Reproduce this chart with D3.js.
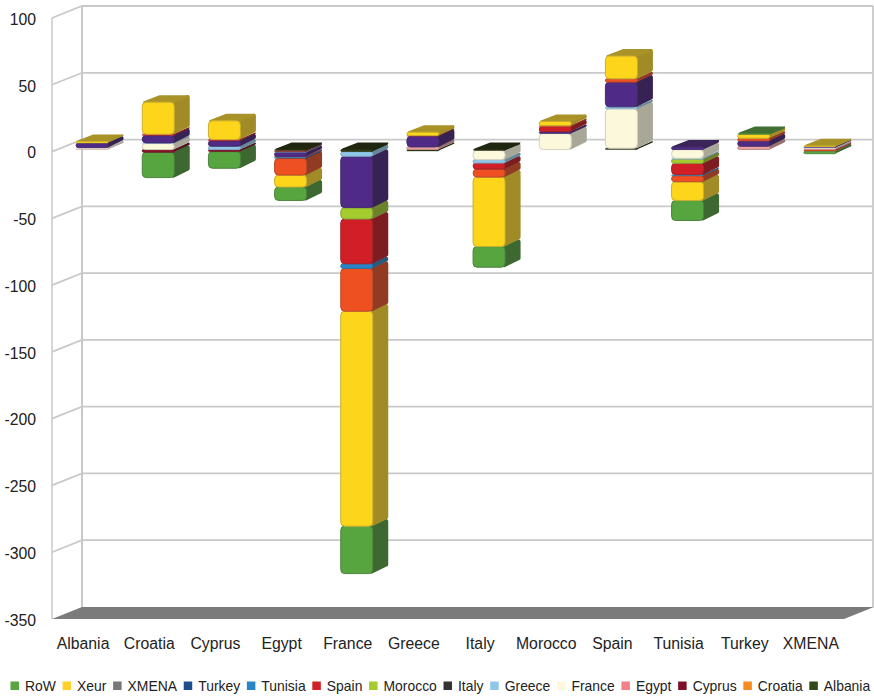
<!DOCTYPE html>
<html>
<head>
<meta charset="utf-8">
<script src="https://cdn.jsdelivr.net/npm/d3@7"></script>
<style>
html,body{margin:0;padding:0;background:#fff}
svg{display:block}
text{font-family:"Liberation Sans",Arial,sans-serif;fill:#222}
</style>
</head>
<body>
<script>
// Regional balances, one stacked 3D column per country.
const categories = ["Albania","Croatia","Cyprus","Egypt","France","Greece","Italy","Morocco","Spain","Tunisia","Turkey","XMENA"];
const seriesNames = ["RoW","Xeur","XMENA","Turkey","Tunisia","Spain","Morocco","Italy","Greece","France","Egypt","Cyprus","Croatia","Albania"];
const yTicks = [100,50,0,-50,-100,-150,-200,-250,-300,-350];

const RoW     = [0,-19,-12.5,-10,-35.5,0,-15.5,0,0,-15,0.5,-2];
const Xeur    = [1.2,24,14,-9,-161,2.5,-52,3,17,-14,3,0.6];
const XMENA   = [0,0,0,-12.5,-32,0,-6,1,2.5,-4.5,2,-0.7];
const Turkey  = [0,0,0,-0.5,0,0,0,0,0,0,0,0];
const Tunisia = [0,0,0,-0.5,-3.5,0,0,0,0,-0.8,0,0];
const Spain   = [0,1,1,-0.5,-33.5,0.5,-4.5,3.5,0,-8.5,0,-0.4];
const Morocco = [0,0,0,0,-8.5,0,0,0,0,-3,0,0];
const Italy   = [3.5,5.5,4,-3,-38.5,8,0,1.5,18.5,2,4,0.8];
const Greece  = [0,0.5,2.5,-0.5,-3.5,0,-2.5,0,1.5,-0.8,0,0.3];
const France  = [1,4.5,0,0,0,0,-7,12,29.5,-6.5,0,0.5];
const Egypt   = [0.4,0,0,0,0,2,0,0,0,0,2.5,0.7];
const Cyprus  = [0,-2,-1.5,-0.5,0,0,0,0,0,0,0,0];
const Croatia = [0,0,0,-0.5,0,0,0,0,0,0,0,0];
const Albania = [0,0,0,-0.6,-1.5,-1,-0.6,0,1,0,0,0];

const seriesValues = [RoW,Xeur,XMENA,Turkey,Tunisia,Spain,Morocco,Italy,Greece,France,Egypt,Cyprus,Croatia,Albania];
const barColors = ["#56a53f","#fdd61c","#ee5022","#1f4e8f","#2a85c8","#d01f26","#a4cc2e","#4f2a86","#8fc7ea","#fbf8dc","#e9a0a0","#8a1428","#f08a24","#2e3a14"];
const legendColors = ["#56a53f","#fdd02a","#777777","#1f4e8f","#2a85c8","#d01f26","#a4cc2e","#333333","#8fc7ea","#fbf8dc","#f2808a","#7d1028","#f58a1f","#34491a"];

const width = 874, height = 697;
const svg = d3.select("body").append("svg").attr("width",width).attr("height",height);

// Front plane of the value axis and the offset to the back wall.
const y = d3.scaleLinear().domain([-350,100]).range([619,18]);
const x = d3.scaleBand().domain(categories).range([50,844]);
const wall = {left:52, dx:30, dy:-12, right:873};
const barW = 32, barFront = {dx:9, dy:-2}, barDepth = {dx:15.5, dy:-7};
const gridColor = "#c9c9c9";

// Walls and grid
const walls = svg.append("g").attr("fill","none").attr("stroke",gridColor);
const x0 = wall.left;
walls.selectAll(".grid").data(yTicks.slice(0,-1)).join("polyline")
  .attr("stroke-width",1.8)
  .attr("points",d=>{
    const p=y(d);
    return `${x0},${p} ${x0+wall.dx},${p+wall.dy} ${wall.right},${p+wall.dy}`;
  });
walls.append("line").attr("x1",x0).attr("x2",x0).attr("y1",y(100)).attr("y2",y(-350)).attr("stroke-width",1.5);
walls.append("line").attr("x1",x0+wall.dx).attr("x2",x0+wall.dx).attr("y1",y(100)+wall.dy).attr("y2",y(-350)+wall.dy).attr("stroke-width",2);
walls.append("line").attr("x1",wall.right).attr("x2",wall.right).attr("y1",y(100)+wall.dy).attr("y2",y(-350)+wall.dy).attr("stroke-width",1.8);

// Floor
svg.append("polygon").attr("fill","#7b7b7b")
  .attr("points",[[x0,y(-350)],[x0+wall.dx,y(-350)+wall.dy],[wall.right+1,y(-350)+wall.dy],[844,y(-350)]].join(" "));

// Stacks: the first stacked key sits next to the zero line
const rows = categories.map((c,i)=>{
  const r={category:c};
  seriesNames.forEach((s,k)=>{r[s]=seriesValues[k][i];});
  return r;
});
const stack = d3.stack().keys(seriesNames.slice().reverse()).offset(d3.stackOffsetDiverging);
const layers = stack(rows);

// Darkened, slightly muted tone for the side and top faces
const shade = (c,k)=>{
  const r=d3.rgb(c), g=(r.r+r.g+r.b)/3, m=0.2;
  const f=v=>(v*(1-m)+g*m)*k;
  return d3.rgb(f(r.r),f(r.g),f(r.b)).formatHex();
};
const colorOf = name=>barColors[seriesNames.indexOf(name)];

const chart = svg.append("g");
categories.forEach((cat,i)=>{
  const left = x(cat)+x.bandwidth()/2-barW/2+barFront.dx;
  const segs = layers.map(l=>({name:l.key,v0:l[i][0],v1:l[i][1]}))
    .filter(s=>s.v1-s.v0>0)
    .sort((a,b)=>a.v1-b.v1);
  const g = chart.append("g").attr("class","bar");
  segs.forEach((s,j)=>{
    const c = colorOf(s.name);
    const top = y(s.v1)+barFront.dy, bot = y(s.v0)+barFront.dy, h = bot-top;
    const inset = Math.min(2.2,h/2.2);
    const sw = inset*2;
    const right = left+barW;
    // side face
    g.append("polygon")
      .attr("points",[[right-1,top+inset],[right+barDepth.dx-inset,top+barDepth.dy+inset],[right+barDepth.dx-inset,bot+barDepth.dy-inset],[right-1,bot-inset]].join(" "))
      .attr("fill",shade(c,0.68)).attr("stroke",shade(c,0.68)).attr("stroke-width",sw).attr("stroke-linejoin","round");
    // top cap on the highest layer of the column
    if(j===segs.length-1){
      g.append("polygon")
        .attr("points",[[left+2,top],[left+barDepth.dx+2,top+barDepth.dy+1],[right+barDepth.dx-1.5,top+barDepth.dy+1],[right-1,top]].join(" "))
        .attr("fill",shade(c,0.72)).attr("stroke",shade(c,0.72)).attr("stroke-width",2).attr("stroke-linejoin","round");
    }
    // front face
    g.append("rect").attr("x",left).attr("y",top).attr("width",barW).attr("height",h)
      .attr("rx",Math.min(4,h/2)).attr("ry",Math.min(4,h/2))
      .attr("fill",c).attr("stroke",shade(c,0.85)).attr("stroke-width",Math.min(1,h/3));
  });
});

// Value axis labels
const axis = d3.axisLeft(y).tickValues(yTicks).tickSize(0).tickPadding(0).tickFormat(d=>String(d));
const axisG = svg.append("g").attr("transform","translate(36,1.2)").call(axis);
axisG.select(".domain").remove();
axisG.attr("font-family",null);
axisG.selectAll("text").attr("font-size",15.8).style("fill","#222");

// Category labels
svg.selectAll(".cat").data(categories).join("text").attr("class","cat")
  .attr("x",d=>x(d)+x.bandwidth()/2).attr("y",648.5)
  .attr("text-anchor","middle").attr("font-size",15.8).text(d=>d);

// Legend laid out as a single row
const legend = svg.append("g");
let cursor = 10.5;
seriesNames.forEach((name,k)=>{
  legend.append("rect").attr("x",cursor).attr("y",681.5).attr("width",8.5).attr("height",8.5).attr("fill",legendColors[k]);
  const t = legend.append("text").attr("x",cursor+14.5).attr("y",691).attr("font-size",13.9).text(name);
  cursor += 14.5 + t.node().getComputedTextLength() + 6.7;
});
</script>
</body>
</html>
